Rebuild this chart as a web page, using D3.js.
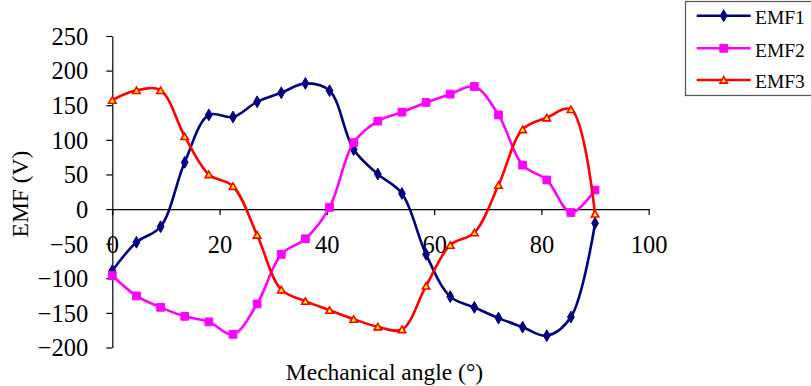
<!DOCTYPE html>
<html>
<head>
<meta charset="utf-8">
<script src="https://cdn.jsdelivr.net/npm/d3@7/dist/d3.min.js"></script>
<style>
  html, body { margin: 0; padding: 0; background: #fff; }
  svg { display: block; }
  svg text { font-family: "Liberation Serif", "Times New Roman", serif !important; fill: #000; }
</style>
</head>
<body>
<svg id="chart" width="811" height="386"></svg>
<script>
// Mechanical angle samples (degrees)
const angles = [0, 4.5, 9, 13.5, 18, 22.5, 27, 31.5, 36, 40.5, 45, 49.5, 54, 58.5, 63, 67.5, 72, 76.5, 81, 85.5, 90];

// Back-EMF of each phase (V)
const emf1 = [-89, -48, -25.5, 67.5, 136, 133, 155, 168, 181.5, 171, 86, 50.5, 22.5, -65.5, -126.5, -142, -157.5, -170.5, -183, -156, -20.5];
const emf2 = [-96, -125.5, -142, -155, -163, -181, -137, -65.5, -43, 2.5, 96, 127, 140, 154, 166, 177, 136, 63.5, 42, -5, 27.5];
const emf3 = [157.5, 171.5, 171.5, 105, 50, 33, -37.5, -116.5, -133, -146, -159, -170, -174, -111, -52, -34, 34.5, 115, 132, 144, -7];

const seriesNames = ["EMF1", "EMF2", "EMF3"];
const seriesColors = ["#000080", "#FF00FF", "#FF0000"];
const seriesValues = [emf1, emf2, emf3];

const xTicks = [0, 20, 40, 60, 80, 100];
const yTicks = [-200, -150, -100, -50, 0, 50, 100, 150, 200, 250];

const serif = "'Liberation Serif', 'Times New Roman', serif";
const svg = d3.select("#chart");

const x = d3.scaleLinear().domain([0, 100]).range([112.3, 648.7]);
const y = d3.scaleLinear().domain([-200, 250]).range([347.5, 36]);

// Y axis
const yAxis = d3.axisLeft(y).tickValues(yTicks).tickSize(6).tickSizeOuter(0).tickPadding(18).tickFormat(d3.format("d"));
const gy = svg.append("g").attr("transform", `translate(${x(0)},0)`).call(yAxis)
  .attr("font-family", null).attr("font-size", null);
gy.select(".domain").attr("stroke", "#000").attr("stroke-width", 1.2);
gy.selectAll(".tick line").attr("stroke", "#000").attr("stroke-width", 1.2);
gy.selectAll(".tick text").style("font-size", "24.5px").style("font-family", serif).attr("dy", "0.34em");

// X axis crossing at zero volts, labels set lower
const xAxis = d3.axisBottom(x).tickValues(xTicks).tickSize(6).tickSizeOuter(0).tickPadding(21).tickFormat(d3.format("d"));
const gx = svg.append("g").attr("transform", `translate(0,${y(0)})`).call(xAxis)
  .attr("font-family", null).attr("font-size", null);
gx.select(".domain").attr("stroke", "#000").attr("stroke-width", 1.2);
gx.selectAll(".tick line").attr("stroke", "#000").attr("stroke-width", 1.2);
gx.selectAll(".tick text").style("font-size", "24.5px").style("font-family", serif);

// Axis titles
svg.append("text")
  .attr("x", 384.5).attr("y", 380)
  .attr("text-anchor", "middle")
  .style("font-size", "23.5px").style("font-family", serif)
  .text("Mechanical angle (°)");

svg.append("text")
  .attr("transform", "translate(27.5,194) rotate(-90)")
  .attr("text-anchor", "middle")
  .style("font-size", "23.5px").style("font-family", serif)
  .text("EMF (V)");

// Smoothed series lines
const line = d3.line()
  .x((d, i) => x(angles[i]))
  .y(d => y(d))
  .curve(d3.curveCatmullRom.alpha(0.5));

const markerShape = [d3.symbolDiamond, d3.symbolSquare, d3.symbolTriangle];
const markerSize = [40, 60, 24];

function styleMarker(sel, s) {
  sel.attr("fill", s === 2 ? "#FFFF00" : seriesColors[s])
    .attr("stroke", seriesColors[s])
    .attr("stroke-width", s === 2 ? 1.6 : 1);
}

seriesValues.forEach((vals, s) => {
  const g = svg.append("g");
  g.append("path")
    .datum(vals)
    .attr("d", line)
    .attr("fill", "none")
    .attr("stroke", seriesColors[s])
    .attr("stroke-width", 2.6);
  g.selectAll("path.mk")
    .data(vals)
    .join("path")
    .attr("class", "mk")
    .attr("transform", (d, i) => `translate(${x(angles[i])},${y(d) + (s === 2 ? 1 : 0)})`)
    .attr("d", d3.symbol().type(markerShape[s]).size(markerSize[s]))
    .call(styleMarker, s);
});

// Legend
const legend = svg.append("g");
legend.append("rect")
  .attr("x", 685.5).attr("y", 1.5)
  .attr("width", 140).attr("height", 94)
  .attr("fill", "#fff")
  .attr("stroke", "#555")
  .attr("stroke-width", 1.2);

const rowY = [15.7, 48.3, 80];
seriesNames.forEach((name, s) => {
  legend.append("line")
    .attr("x1", 696.7).attr("x2", 750.7)
    .attr("y1", rowY[s]).attr("y2", rowY[s])
    .attr("stroke", seriesColors[s])
    .attr("stroke-width", 2.6);
  legend.append("path")
    .attr("transform", `translate(723.7,${rowY[s] + (s === 2 ? 1 : 0)})`)
    .attr("d", d3.symbol().type(markerShape[s]).size(markerSize[s]))
    .call(styleMarker, s);
  legend.append("text")
    .attr("x", 755).attr("y", rowY[s] + 8.3)
    .style("font-size", "19.5px").style("font-family", serif)
    .text(name);
});
</script>
</body>
</html>
